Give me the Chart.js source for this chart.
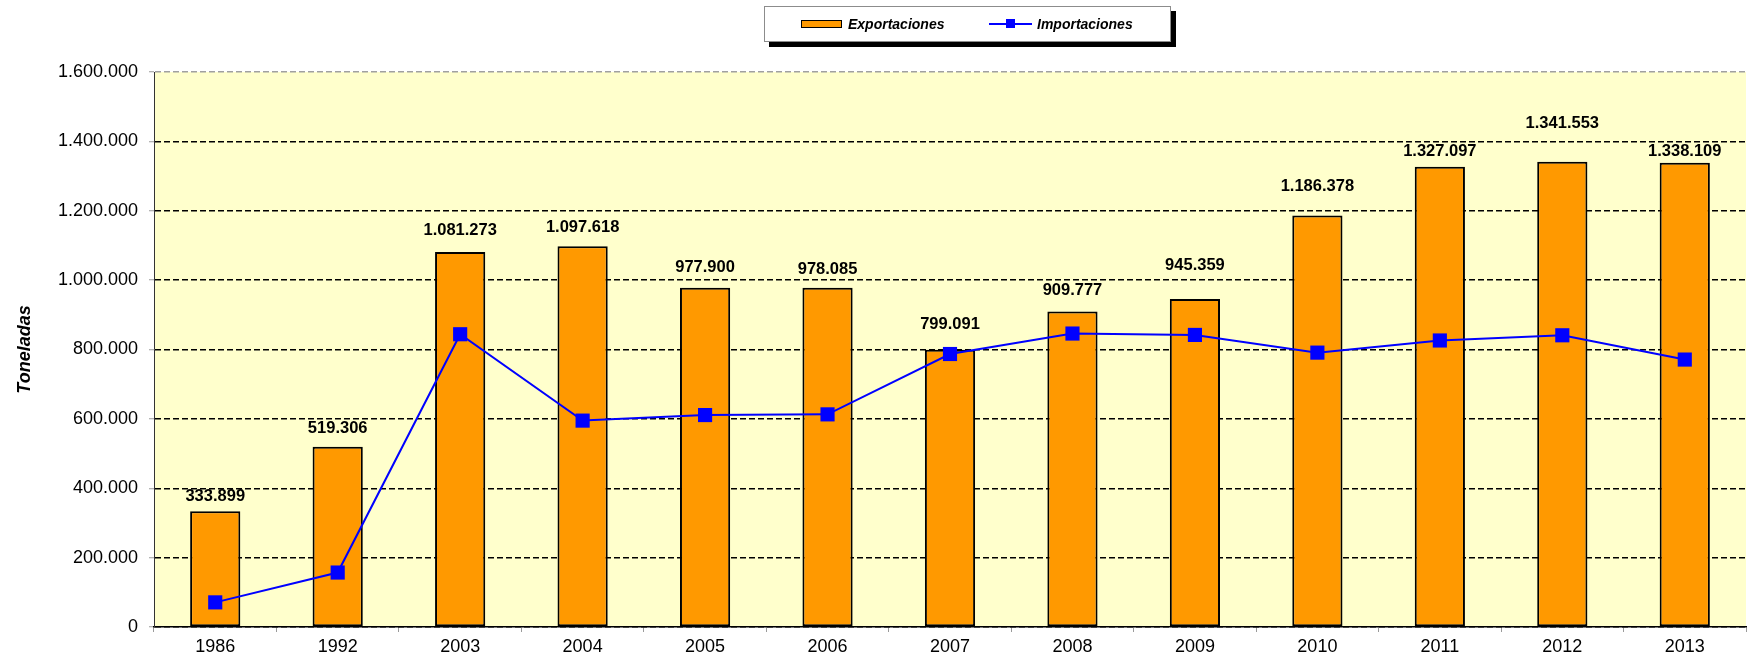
<!DOCTYPE html>
<html>
<head>
<meta charset="utf-8">
<script src="https://cdn.jsdelivr.net/npm/chart.js@4/dist/chart.umd.min.js"></script>
<style>
    html, body { margin: 0; padding: 0; background: #fff; overflow: hidden; }
    #wrap { position: relative; width: 1756px; height: 659px; }
    #leyenda {
        position: absolute; left: 764px; top: 6px; width: 405px; height: 34px;
        background: #fff; border: 1px solid #8c8c8c; box-shadow: 5px 5px 0 #000;
        font: italic bold 14px "Liberation Sans", Arial, sans-serif; color: #000;
    }
    #leyenda .item { position: absolute; top: 0; height: 34px; display: flex; align-items: center; }
    #leyenda .caja { width: 39px; height: 6px; background: #ff9900; border: 1.5px solid #000; margin-right: 6px; }
    #leyenda .linea { position: relative; width: 43px; height: 2px; background: #0000ff; margin-right: 5px; }
    #leyenda .linea span { position: absolute; left: 17px; top: -4px; width: 9px; height: 9px; background: #0000ff; }
</style>
</head>
<body>
<div id="wrap">
    <canvas id="graficoToneladas" width="1756" height="659"></canvas>
    <div id="leyenda"></div>
</div>
<script>
// ============ DATOS ============
const anios = ['1986', '1992', '2003', '2004', '2005', '2006', '2007', '2008', '2009', '2010', '2011', '2012', '2013'];
const exportaciones = [333899, 519306, 1081273, 1097618, 977900, 978085, 799091, 909777, 945359, 1186378, 1327097, 1341553, 1338109];
const importaciones = [71000, 157000, 844000, 595000, 611000, 613000, 787000, 846000, 842000, 791000, 826000, 841000, 771000];
const ticksEje = [0, 200000, 400000, 600000, 800000, 1000000, 1200000, 1400000, 1600000];

const FUENTE = '"Liberation Sans", Arial, sans-serif';

// separador de miles con punto
function formatoMiles(n) {
    return String(Math.round(n)).replace(/\B(?=(\d{3})+(?!\d))/g, '.');
}

// fondo amarillo del área del gráfico
const fondoArea = {
    id: 'fondoArea',
    beforeDraw(chart) {
        const { ctx, chartArea: a } = chart;
        ctx.save();
        ctx.fillStyle = '#ffffcc';
        ctx.fillRect(a.left, a.top, a.right - a.left, a.bottom - a.top);
        ctx.restore();
    }
};

// etiquetas de valor encima de cada barra (separación en px por barra)
const separacion = [15, 18, 21, 19, 20, 18, 25, 21, 34, 29, 15, 38, 11];
const etiquetasBarras = {
    id: 'etiquetasBarras',
    afterDatasetsDraw(chart) {
        const ctx = chart.ctx;
        const meta = chart.getDatasetMeta(0);
        ctx.save();
        ctx.font = 'bold 16.5px ' + FUENTE;
        ctx.fillStyle = '#000';
        ctx.textAlign = 'center';
        ctx.textBaseline = 'middle';
        meta.data.forEach((barra, i) => {
            ctx.fillText(formatoMiles(exportaciones[i]), barra.x, barra.y - separacion[i]);
        });
        ctx.restore();
    }
};

const grafico = new Chart(document.getElementById('graficoToneladas'), {
    data: {
        labels: anios,
        datasets: [
            {
                type: 'bar',
                label: 'Exportaciones',
                data: exportaciones,
                backgroundColor: '#ff9900',
                borderColor: '#000',
                borderWidth: 2,
                borderSkipped: false,
                barPercentage: 0.41,
                categoryPercentage: 1,
                order: 2
            },
            {
                type: 'line',
                label: 'Importaciones',
                data: importaciones,
                borderColor: '#0000ff',
                borderWidth: 2,
                backgroundColor: '#0000ff',
                pointStyle: 'rect',
                pointRadius: 10,
                pointBorderWidth: 0,
                tension: 0,
                order: 1
            }
        ]
    },
    options: {
        responsive: false,
        animation: false,
        layout: { padding: { top: 72, right: 0, left: 0, bottom: 0 } },
        plugins: {
            legend: { display: false },
            tooltip: { enabled: false }
        },
        scales: {
            x: {
                offset: true,
                grid: {
                    offset: true,
                    drawOnChartArea: false,
                    tickLength: 5,
                    tickColor: '#9a9a9a',
                    tickWidth: 1
                },
                border: { color: '#000', width: 1.5 },
                ticks: {
                    color: '#000',
                    padding: 4,
                    font: { family: FUENTE, size: 18 }
                },
                afterFit(scale) { scale.height = 32; }
            },
            y: {
                min: 0,
                max: 1600000,
                afterBuildTicks(scale) { scale.ticks = ticksEje.map(v => ({ value: v })); },
                grid: {
                    color: ctx => ctx.tick && ctx.tick.value === 1600000 ? '#a0a0a0' : '#000',
                    lineWidth: 1.5,
                    tickLength: 5,
                    tickColor: '#9a9a9a',
                    tickWidth: 1,
                    tickBorderDash: []
                },
                border: { color: '#333', width: 1, dash: [6, 3] },
                ticks: {
                    color: '#000',
                    padding: 11,
                    font: { family: FUENTE, size: 18 },
                    callback: v => formatoMiles(v)
                },
                title: {
                    display: true,
                    text: 'Toneladas',
                    color: '#000',
                    padding: { top: 14, bottom: 0 },
                    font: { family: FUENTE, size: 18, style: 'italic', weight: 'bold' }
                },
                afterFit(scale) { scale.width = 154; }
            }
        }
    },
    plugins: [fondoArea, etiquetasBarras]
});

// ============ LEYENDA ============
const leyenda = document.getElementById('leyenda');
const [dsBarras, dsLinea] = grafico.data.datasets;
leyenda.innerHTML =
    '<div class="item" style="left:36px"><div class="caja"></div>' + dsBarras.label + '</div>' +
    '<div class="item" style="left:224px"><div class="linea"><span></span></div>' + dsLinea.label + '</div>';
</script>
</body>
</html>
